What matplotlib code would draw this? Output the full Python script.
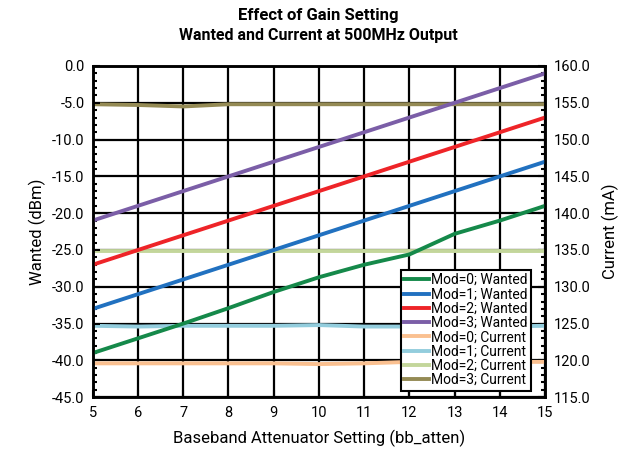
import numpy as np
import matplotlib
matplotlib.use("Agg")
import matplotlib.pyplot as plt
from matplotlib.ticker import MultipleLocator, FormatStrFormatter

plt.rcParams['font.family'] = ['Roboto', 'DejaVu Sans']

# bb_atten settings
atten = [5, 6, 7, 8, 9, 10, 11, 12, 13, 14, 15]

# wanted output (dBm)
wanted_mod0 = [-39.0, -37.0, -35.0, -32.9, -30.7, -28.7, -27.0, -25.6, -22.8, -21.0, -19.0]
wanted_mod1 = [-33.0, -31.0, -29.0, -27.0, -25.0, -23.0, -21.0, -19.0, -17.0, -15.0, -13.0]
wanted_mod2 = [-27.0, -25.0, -23.0, -21.0, -19.0, -17.0, -15.0, -13.0, -11.0, -9.0, -7.0]
wanted_mod3 = [-21.0, -19.0, -17.0, -15.0, -13.0, -11.0, -9.0, -7.0, -5.0, -3.0, -1.0]

# supply current (mA)
current_mod0 = [119.6, 119.6, 119.6, 119.6, 119.6, 119.5, 119.6, 119.8, 119.8, 119.8, 119.8]
current_mod1 = [124.7, 124.6, 124.7, 124.7, 124.7, 124.8, 124.6, 124.6, 124.6, 124.6, 124.7]
current_mod2 = [134.8, 134.8, 134.8, 134.8, 134.8, 134.8, 134.8, 134.8, 134.8, 134.8, 134.8]
current_mod3 = [154.8, 154.7, 154.5, 154.8, 154.8, 154.8, 154.8, 154.8, 154.8, 154.8, 154.8]

wanted = [wanted_mod0, wanted_mod1, wanted_mod2, wanted_mod3]
current = [current_mod0, current_mod1, current_mod2, current_mod3]
wanted_colors = ['#15894a', '#2171c0', '#ee2428', '#7b5ea7']
current_colors = ['#fac090', '#93cddd', '#c3d69b', '#948a54']

fig = plt.figure(figsize=(6.31, 4.55), dpi=100)
ax1 = fig.add_axes([0.147, 0.127, 0.717, 0.728])
ax2 = ax1.twinx()
# current lines sit underneath the wanted lines
ax1.set_zorder(ax2.get_zorder() + 1)
ax1.patch.set_visible(False)

handles = []
for i in range(4):
    h, = ax1.plot(atten, wanted[i], color=wanted_colors[i], lw=2.8,
                  label=f"Mod={i}; Wanted")
    handles.append(h)
for i in range(4):
    h, = ax2.plot(atten, current[i], color=current_colors[i], lw=2.8,
                  label=f"Mod={i}; Current")
    handles.append(h)

ax1.set_xlim(5, 15)
ax1.set_ylim(-45, 0)
ax2.set_ylim(115, 160)
ax1.xaxis.set_major_locator(MultipleLocator(1))
ax1.yaxis.set_major_locator(MultipleLocator(5))
ax1.yaxis.set_minor_locator(MultipleLocator(1))
ax2.yaxis.set_major_locator(MultipleLocator(5))
ax2.yaxis.set_minor_locator(MultipleLocator(1))
ax1.yaxis.set_major_formatter(FormatStrFormatter('%.1f'))
ax2.yaxis.set_major_formatter(FormatStrFormatter('%.1f'))

# grid lives on the back axes so it stays under every line
ax2.xaxis.set_visible(True)
ax2.xaxis.set_major_locator(MultipleLocator(1))
ax2.tick_params(axis='x', which='both', bottom=False, top=False,
                labelbottom=False, labeltop=False)
ax2.set_axisbelow(True)
ax2.grid(True, which='major', axis='both', color='black', lw=1.6)

for ax in (ax1, ax2):
    ax.tick_params(which='both', direction='in', labelsize=10.5, colors='black')
    ax.tick_params(which='major', length=5, width=1.5)
    ax.tick_params(which='minor', length=3, width=1.5)
    for s in ax.spines.values():
        s.set_linewidth(1.8)
ax1.tick_params(axis='x', pad=6)
ax1.tick_params(axis='y', pad=6)
ax2.tick_params(axis='y', pad=6)

ax1.set_xlabel("Baseband Attenuator Setting (bb_atten)", fontsize=12, labelpad=7)
ax1.set_ylabel("Wanted (dBm)", fontsize=12)
ax2.set_ylabel("Current (mA)", fontsize=12, labelpad=8)

fig.text(0.504, 0.965, "Effect of Gain Setting", ha='center', va='center',
         fontsize=12, fontweight='bold')
fig.text(0.504, 0.923, "Wanted and Current at 500MHz Output", ha='center',
         va='center', fontsize=11.5, fontweight='bold')

leg = ax1.legend(handles=handles, loc='lower right', bbox_to_anchor=(0.968, 0.02),
                 fontsize=10, frameon=True, fancybox=False, framealpha=1,
                 edgecolor='black', handlelength=1.8, handletextpad=0.1,
                 labelspacing=0.02, borderpad=0.25, borderaxespad=0.0)
leg.get_frame().set_linewidth(1.5)

fig.savefig("out.png", dpi=100)
